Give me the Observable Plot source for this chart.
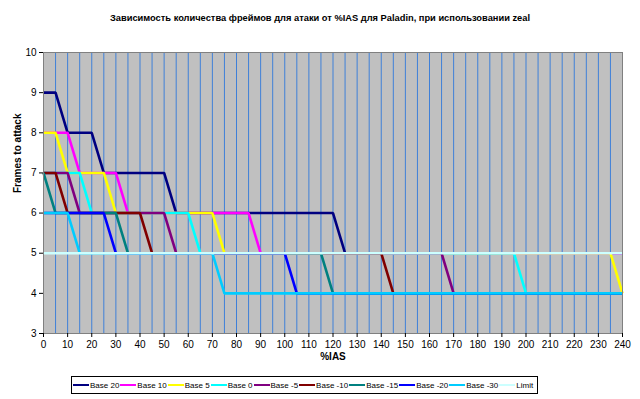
<!DOCTYPE html>
<html><head><meta charset="utf-8">
<script src="https://cdn.jsdelivr.net/npm/d3@7"></script>
<script src="https://cdn.jsdelivr.net/npm/@observablehq/plot@0.6"></script>
<style>
body{margin:0;background:#fff;font-family:"Liberation Sans",Arial,sans-serif;}
#wrap{position:relative;width:640px;height:399px;overflow:hidden;}
#title{position:absolute;top:13px;left:0;width:640px;text-align:center;font-weight:bold;font-size:9.3px;color:#000;}
#chart{position:absolute;top:40px;left:0;}
#legend{position:absolute;left:71px;top:376px;height:16px;border:1px solid #000;display:flex;align-items:center;padding:0 3px 0 1px;font-size:8px;white-space:nowrap;background:#fff;}
.item{display:flex;align-items:center;margin-right:1px;}
.sw{width:16px;height:2px;margin-right:1px;}
</style>
</head><body>
<div id="wrap">
<div id="title"></div>
<div id="chart"></div>
<div id="legend"></div>
</div>
<script>
const titleText = "Зависимость количества фреймов для атаки от %IAS для Paladin, при использовании zeal";
const xLabel = "%IAS";
const yLabel = "Frames to attack";

const ias = [0,5,10,15,20,25,30,35,40,45,50,55,60,65,70,75,80,85,90,95,100,105,110,115,120,125,130,135,140,145,150,155,160,165,170,175,180,185,190,195,200,205,210,215,220,225,230,235,240];

const seriesNames = ["Base 20","Base 10","Base 5","Base 0","Base -5","Base -10","Base -15","Base -20","Base -30","Limit"];
const seriesColors = ["#000080","#FF00FF","#FFFF00","#00FFFF","#800080","#800000","#008080","#0000FF","#00CCFF","#CCFFFF"];

const base20  = [9,9,8,8,8,7,7,7,7,7,7,6,6,6,6,6,6,6,6,6,6,6,6,6,6,5,5,5,5,5,5,5,5,5,5,5,5,5,5,5,5,5,5,5,5,5,5,5,5];
const base10  = [8,8,8,7,7,7,7,6,6,6,6,6,6,6,6,6,6,6,5,5,5,5,5,5,5,5,5,5,5,5,5,5,5,5,5,5,5,5,5,5,5,5,5,5,5,5,5,5,5];
const base5   = [8,8,7,7,7,7,6,6,6,6,6,6,6,6,6,5,5,5,5,5,5,5,5,5,5,5,5,5,5,5,5,5,5,5,5,5,5,5,5,5,5,5,5,5,5,5,5,5,4];
const base0   = [7,7,7,7,6,6,6,6,6,6,6,6,6,5,5,5,5,5,5,5,5,5,5,5,5,5,5,5,5,5,5,5,5,5,5,5,5,5,5,5,4,4,4,4,4,4,4,4,4];
const baseM5  = [7,7,7,6,6,6,6,6,6,6,6,5,5,5,5,5,5,5,5,5,5,5,5,5,5,5,5,5,5,5,5,5,5,5,4,4,4,4,4,4,4,4,4,4,4,4,4,4,4];
const baseM10 = [7,7,6,6,6,6,6,6,6,5,5,5,5,5,5,5,5,5,5,5,5,5,5,5,5,5,5,5,5,4,4,4,4,4,4,4,4,4,4,4,4,4,4,4,4,4,4,4,4];
const baseM15 = [7,6,6,6,6,6,6,5,5,5,5,5,5,5,5,5,5,5,5,5,5,5,5,5,4,4,4,4,4,4,4,4,4,4,4,4,4,4,4,4,4,4,4,4,4,4,4,4,4];
const baseM20 = [6,6,6,6,6,6,5,5,5,5,5,5,5,5,5,5,5,5,5,5,5,4,4,4,4,4,4,4,4,4,4,4,4,4,4,4,4,4,4,4,4,4,4,4,4,4,4,4,4];
const baseM30 = [6,6,6,5,5,5,5,5,5,5,5,5,5,5,5,4,4,4,4,4,4,4,4,4,4,4,4,4,4,4,4,4,4,4,4,4,4,4,4,4,4,4,4,4,4,4,4,4,4];
const limit   = [5,5,5,5,5,5,5,5,5,5,5,5,5,5,5,5,5,5,5,5,5,5,5,5,5,5,5,5,5,5,5,5,5,5,5,5,5,5,5,5,5,5,5,5,5,5,5,5,5];

const xTicks = [0,10,20,30,40,50,60,70,80,90,100,110,120,130,140,150,160,170,180,190,200,210,220,230,240];
const xGrid = [5,10,15,20,25,30,35,40,45,50,55,60,65,70,75,80,85,90,95,100,105,110,115,120,125,130,135,140,145,150,155,160,165,170,175,180,185,190,195,200,205,210,215,220,225,230,235];
const yTicks = [3,4,5,6,7,8,9,10];

const allSeries = [base20,base10,base5,base0,baseM5,baseM10,baseM15,baseM20,baseM30,limit];

document.getElementById("title").textContent = titleText;

const lineMarks = allSeries.map((vals, si) =>
  Plot.line(vals.map((v, i) => ({x: ias[i], y: v})), {
    x: "x", y: "y", stroke: seriesColors[si], strokeWidth: 2.6, strokeLinejoin: "miter", strokeLinecap: "butt"
  })
);

const chart = Plot.plot({
  width: 640,
  height: 330,
  marginTop: 12,
  marginLeft: 43,
  marginRight: 18,
  marginBottom: 37,
  style: {fontFamily: "'Liberation Sans', Arial, sans-serif", fontSize: "10px", background: "transparent", color: "#000"},
  x: {domain: [0, 240]},
  y: {domain: [3, 10]},
  marks: [
    Plot.frame({fill: "#C0C0C0"}),
    Plot.ruleX(xGrid, {stroke: "#3F80D8", strokeWidth: 1}),
    ...lineMarks,
    Plot.frame({stroke: "#808080"}),
    Plot.axisX({ticks: xTicks, tickSize: 4, tickPadding: 3, label: null, stroke: "#000", tickFormat: d3.format("d")}),
    Plot.axisY({ticks: yTicks, tickSize: 4, tickPadding: 3, label: null, stroke: "#000", tickFormat: d3.format("d")}),
    Plot.text([xLabel], {frameAnchor: "bottom", dy: 26, fontWeight: "bold", fontSize: 10}),
    Plot.text([yLabel], {frameAnchor: "left", dx: -26, rotate: -90, fontWeight: "bold", fontSize: 10})
  ]
});
document.getElementById("chart").appendChild(chart);

const legend = document.getElementById("legend");
seriesNames.forEach((name, i) => {
  const it = document.createElement("div");
  it.className = "item";
  const sw = document.createElement("div");
  sw.className = "sw";
  sw.style.background = seriesColors[i];
  const tx = document.createElement("span");
  tx.textContent = name;
  it.appendChild(sw); it.appendChild(tx);
  legend.appendChild(it);
});
</script>
</body></html>
